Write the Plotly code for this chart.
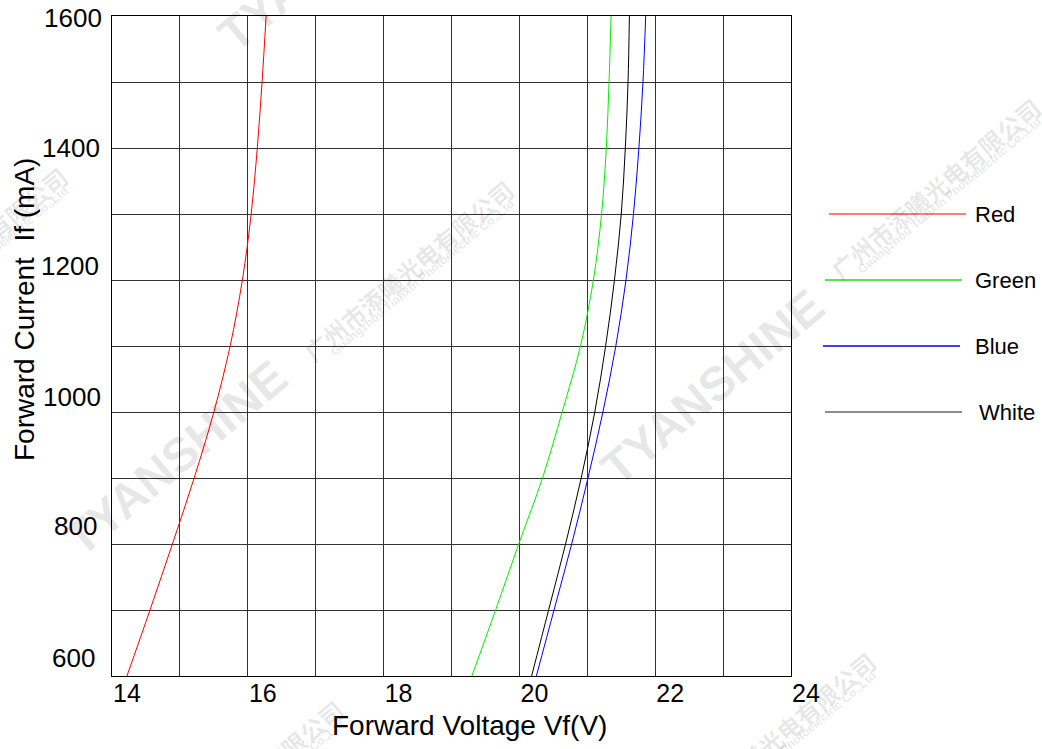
import plotly.graph_objects as go

# ---------------- data ----------------
current_ma = [600, 700, 800, 900, 1000, 1100, 1200, 1300, 1400, 1500, 1600]
red_vf = [14.22, 14.56, 14.89, 15.21, 15.50, 15.74, 15.92, 16.05, 16.14, 16.21, 16.27]
green_vf = [19.30, 19.65, 19.99, 20.34, 20.63, 20.90, 21.09, 21.21, 21.28, 21.32, 21.35]
blue_vf = [20.25, 20.51, 20.77, 21.01, 21.23, 21.42, 21.57, 21.68, 21.76, 21.82, 21.86]
white_vf = [20.18, 20.43, 20.68, 20.91, 21.11, 21.27, 21.40, 21.50, 21.56, 21.60, 21.62]

series_names = ["Red", "Green", "Blue", "White"]

x_tick_vals = [14, 15, 16, 17, 18, 19, 20, 21, 22, 23, 24]
x_tick_text = ["14", "", "16", "", "18", "", "20", "", "22", "", "24"]
y_tick_vals = [600, 700, 800, 900, 1000, 1100, 1200, 1300, 1400, 1500, 1600]
y_tick_text = ["600", "", "800", "", "1000", "", "1200", "", "1400", "", "1600"]

x_title = "Forward Voltage Vf(V)"
y_title = "Forward Current  If (mA)"
wm_brand = "TYANSHINE"
wm_cn = "广州市添曦光电有限公司"
wm_en = "Guangzhou Tianxin Photoelectric Co.,Ltd"

# ---------------- style ----------------
W, H = 1042, 749
ML, MR, MT, MB = 112, 251, 16, 73
PW, PH = W - ML - MR, H - MT - MB
FONT = "Liberation Sans, Arial, sans-serif"
line_colors = ["#ff0000", "#00ee00", "#0000ff", "#000000"]
legend_line_colors = ["#ff5050", "#22dd22", "#0000ff", "#666666"]
legend_levels = [1300, 1200, 1100, 1000]
legend_x0 = [829, 825, 823, 825]
legend_x1 = [966, 962, 960, 962]
legend_tx = [973, 973, 973, 977]
y_lab_shift = {600: 18, 800: 18, 1000: 15, 1200: 14, 1400: 0, 1600: -2}
y_lab_xshift = {600: -15, 800: -13, 1000: -9, 1200: -11, 1400: -10, 1600: -8}


def px(xp):
    return (xp - ML) / PW


def py(yp):
    return (H - MB - yp) / PH


fig = go.Figure()
for name, xs, col in zip(series_names, [red_vf, green_vf, blue_vf, white_vf], line_colors):
    fig.add_trace(go.Scatter(x=xs, y=current_ma, mode="lines", name=name,
                             line=dict(color=col, width=1, shape="spline", smoothing=1.0),
                             showlegend=False, hoverinfo="x+y+name"))

annotations = []
shapes = []

# watermark (faint, rotated)
wm_col = "rgba(0,0,0,0.10)"
brand_centers = [(175, 458), (712, 387), (330, -46)]
cn_centers = [(408, 270), (935, 188), (-38, 257), (238, 790), (770, 742)]
for cx, cy in brand_centers:
    annotations.append(dict(text="<b>%s</b>" % wm_brand, x=px(cx), y=py(cy), xref="paper", yref="paper",
                            showarrow=False, textangle=-40, xanchor="center", yanchor="middle",
                            font=dict(family=FONT, size=48, color=wm_col)))
for cx, cy in cn_centers:
    annotations.append(dict(text="<b>%s</b>" % wm_cn, x=px(cx), y=py(cy), xref="paper", yref="paper",
                            showarrow=False, textangle=-40, xanchor="center", yanchor="middle",
                            font=dict(family="Noto Sans CJK SC", size=24, color=wm_col)))
    annotations.append(dict(text="<b>%s</b>" % wm_en, x=px(cx + 14), y=py(cy + 8), xref="paper", yref="paper",
                            showarrow=False, textangle=-40, xanchor="center", yanchor="middle",
                            font=dict(family=FONT, size=12, color=wm_col)))

# y tick labels
for v, t in zip(y_tick_vals, y_tick_text):
    if t:
        annotations.append(dict(text=t, x=0, xref="paper", y=v, yref="y", xanchor="right", yanchor="middle",
                                xshift=y_lab_xshift[v], yshift=y_lab_shift[v], showarrow=False,
                                font=dict(family=FONT, size=26, color="black")))

# axis titles
annotations.append(dict(text=x_title, x=px(469), y=py(725), xref="paper", yref="paper", showarrow=False,
                        xanchor="center", yanchor="middle", font=dict(family=FONT, size=28, color="black")))
annotations.append(dict(text=y_title, x=px(24), y=py(310), xref="paper", yref="paper", showarrow=False,
                        textangle=-90, xanchor="center", yanchor="middle",
                        font=dict(family=FONT, size=28, color="black")))

# legend
for name, lvl, c, x0, x1, tx in zip(series_names, legend_levels, legend_line_colors, legend_x0, legend_x1, legend_tx):
    shapes.append(dict(type="line", xref="paper", yref="y", x0=px(x0), x1=px(x1), y0=lvl, y1=lvl,
                       line=dict(color=c, width=1.3)))
    annotations.append(dict(text=name, xref="paper", yref="y", x=px(tx), y=lvl, xanchor="left", yanchor="middle",
                            showarrow=False, font=dict(family=FONT, size=22, color="black")))

fig.update_layout(
    width=W, height=H, margin=dict(l=ML, r=MR, t=MT, b=MB, pad=0),
    paper_bgcolor="white", plot_bgcolor="white",
    font=dict(family=FONT, color="black"),
    annotations=annotations, shapes=shapes, showlegend=False,
    xaxis=dict(range=[14, 24], tickmode="array", tickvals=x_tick_vals, ticktext=x_tick_text,
               showgrid=True, gridcolor="#333333", gridwidth=1.2, zeroline=False,
               showline=True, linecolor="black", linewidth=1, mirror=True, ticks="",
               tickfont=dict(family=FONT, size=25, color="black"), ticklabelshift=15, ticklabelstandoff=-5),
    yaxis=dict(range=[600, 1600], tickmode="array", tickvals=y_tick_vals, ticktext=y_tick_text,
               showticklabels=False, showgrid=True, gridcolor="#333333", gridwidth=1.2, zeroline=False,
               showline=True, linecolor="black", linewidth=1, mirror=True, ticks=""),
)

fig.write_html("out.html")
